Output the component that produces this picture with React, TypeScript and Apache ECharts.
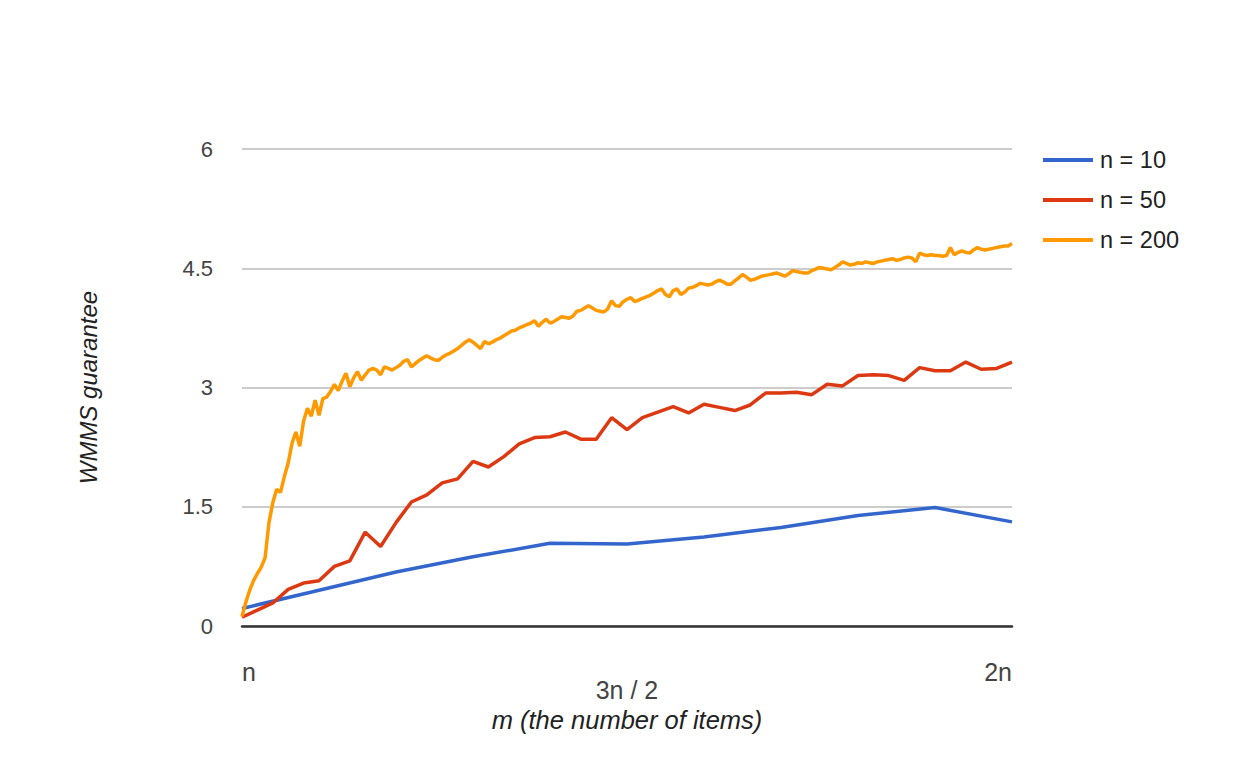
import React, { useEffect, useRef } from "react";
import * as echarts from "echarts";

const seriesNames = ["n = 10", "n = 50", "n = 200"];
const seriesN = [10, 50, 200];
const seriesColors = ["#3366cc", "#dc3912", "#ff9900"];

const yTicks = [0, 1.5, 3, 4.5, 6];
const xTickValues = [1, 1.5, 2];
const xTickLabels = ["n", "3n / 2", "2n"];

const n10 = [0.22, 0.45, 0.68, 0.87, 1.04, 1.03, 1.12, 1.24, 1.39, 1.49, 1.31];

const n50 = [
  0.11, 0.2, 0.29, 0.46, 0.54, 0.57, 0.75, 0.82, 1.18, 1.0,
  1.3, 1.56, 1.65, 1.8, 1.85, 2.07, 2.0, 2.13, 2.29, 2.37,
  2.38, 2.44, 2.35, 2.35, 2.62, 2.47, 2.62, 2.69, 2.76, 2.68,
  2.79, 2.75, 2.71, 2.78, 2.93, 2.93, 2.94, 2.91, 3.04, 3.02,
  3.15, 3.16, 3.15, 3.09, 3.25, 3.21, 3.21, 3.32, 3.23, 3.24,
  3.32,
];

const n200 = [
  0.12, 0.3, 0.45, 0.57, 0.66, 0.74, 0.86, 1.3, 1.55, 1.72,
  1.68, 1.88, 2.05, 2.3, 2.44, 2.26, 2.58, 2.74, 2.64, 2.84,
  2.65, 2.86, 2.88, 2.95, 3.04, 2.96, 3.08, 3.18, 3.01, 3.12,
  3.2, 3.09, 3.16, 3.22, 3.24, 3.22, 3.16, 3.26, 3.24, 3.22,
  3.25, 3.28, 3.33, 3.35, 3.26, 3.3, 3.34, 3.37, 3.4, 3.37,
  3.35, 3.34, 3.38, 3.41, 3.43, 3.46, 3.49, 3.53, 3.57, 3.6,
  3.57, 3.53, 3.49, 3.58, 3.55, 3.57, 3.6, 3.62, 3.65, 3.68,
  3.71, 3.72, 3.75, 3.77, 3.79, 3.81, 3.84, 3.77, 3.82, 3.86,
  3.81, 3.83, 3.86, 3.89, 3.88, 3.87, 3.9, 3.96, 3.97, 4.0,
  4.03, 4.0, 3.97, 3.96, 3.95, 3.99, 4.09, 4.03, 4.02, 4.08,
  4.11, 4.13, 4.08, 4.1, 4.12, 4.14, 4.16, 4.19, 4.22, 4.24,
  4.17, 4.14, 4.22, 4.24, 4.17, 4.2, 4.25, 4.26, 4.28, 4.31,
  4.3, 4.29, 4.3, 4.33, 4.35, 4.33, 4.3, 4.3, 4.34, 4.38,
  4.42, 4.39, 4.35, 4.36, 4.38, 4.4, 4.41, 4.42, 4.43, 4.44,
  4.42, 4.4, 4.43, 4.47, 4.46, 4.45, 4.44, 4.44, 4.47, 4.49,
  4.51, 4.5, 4.49, 4.48, 4.51, 4.54, 4.58, 4.56, 4.54, 4.55,
  4.57, 4.56, 4.58, 4.57, 4.56, 4.58, 4.59, 4.6, 4.61, 4.62,
  4.6, 4.61, 4.63, 4.64, 4.63, 4.58, 4.69, 4.67, 4.66, 4.67,
  4.66, 4.66, 4.65, 4.66, 4.76, 4.67, 4.7, 4.72, 4.7, 4.69,
  4.73, 4.76, 4.74, 4.73, 4.74, 4.75, 4.76, 4.77, 4.78, 4.78,
  4.81,
];

const seriesValues = [n10, n50, n200];

const FONT = "Arial, 'Liberation Sans', sans-serif";

export default function App() {
  const ref = useRef<HTMLDivElement>(null);

  useEffect(() => {
    if (!ref.current) return;
    const chart = echarts.init(ref.current, null, { renderer: "svg" });
    const labelFor = (v: number) => {
      const idx = xTickValues.findIndex((t) => Math.abs(t - v) < 1e-9);
      if (idx < 0) return "";
      return idx === 1 ? "\n" + xTickLabels[idx] : xTickLabels[idx];
    };
    chart.setOption({
      animation: false,
      backgroundColor: "#ffffff",
      textStyle: { fontFamily: FONT },
      grid: { left: 242, right: 241, top: 149, bottom: 149, containLabel: false },
      legend: {
        orient: "vertical",
        left: 1038,
        top: 143,
        icon: "rect",
        itemWidth: 50,
        itemHeight: 4,
        itemGap: 16,
        data: seriesNames,
        textStyle: {
          fontFamily: FONT,
          fontSize: 23.5,
          color: "#222222",
          lineHeight: 24,
          padding: [0, 0, 0, 2],
        },
      },
      xAxis: {
        type: "value",
        min: 1,
        max: 2,
        interval: 0.5,
        name: "m (the number of items)",
        nameLocation: "middle",
        nameGap: 80,
        nameTextStyle: {
          fontFamily: FONT,
          fontSize: 25.5,
          fontStyle: "italic",
          color: "#222222",
        },
        axisLine: { show: true, onZero: false, lineStyle: { color: "#333333", width: 2.5 } },
        axisTick: { show: false },
        splitLine: { show: false },
        axisLabel: {
          formatter: labelFor,
          fontFamily: FONT,
          fontSize: 25,
          lineHeight: 18,
          color: "#444444",
          margin: 37,
          alignMinLabel: "left",
          alignMaxLabel: "right",
        },
      },
      yAxis: {
        type: "value",
        min: 0,
        max: 6,
        interval: 1.5,
        name: "WMMS guarantee",
        nameLocation: "middle",
        nameRotate: 90,
        nameGap: 142,
        nameTextStyle: {
          fontFamily: FONT,
          fontSize: 24,
          fontStyle: "italic",
          color: "#222222",
        },
        axisLine: { show: false },
        axisTick: { show: false },
        splitLine: { show: true, lineStyle: { color: "#cccccc", width: 2 } },
        axisLabel: {
          formatter: (v: number) => (yTicks.includes(v) ? String(v) : ""),
          fontFamily: FONT,
          fontSize: 22,
          color: "#444444",
          margin: 29,
        },
      },
      series: seriesNames.map((name, k) => ({
        name,
        type: "line",
        showSymbol: false,
        symbol: "none",
        color: seriesColors[k],
        lineStyle: { color: seriesColors[k], width: 3.5 },
        data: seriesValues[k].map((v, i) => [1 + i / seriesN[k], v]),
        z: 2 + k,
      })),
    });
    return () => chart.dispose();
  }, []);

  return (
    <div
      ref={ref}
      style={{ position: "fixed", left: 0, top: 0, width: 1253, height: 775, background: "#fff" }}
    />
  );
}
